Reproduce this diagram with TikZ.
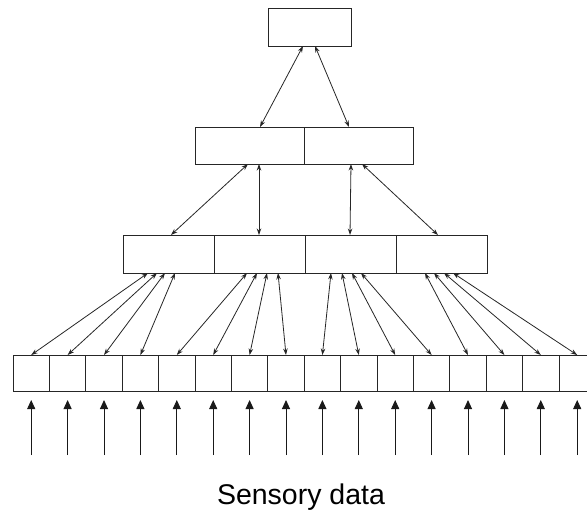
\documentclass[tikz,border=0pt]{standalone}
\usepackage{fontspec}
\setmainfont{Liberation Sans}
\usetikzlibrary{arrows.meta}
\usetikzlibrary{positioning}

\tikzset{
  unit/.style={draw=black!85,rectangle,inner sep=0pt,outer sep=0pt,line width=1pt},
  link/.style={draw=black!85,<->,>={Stealth[length=6.5pt,width=4.5pt]},line width=0.8pt},
  input/.style={draw=black!90,->,>={Triangle[length=9pt,width=8pt]},line width=1pt},
}

\begin{document}
\begin{tikzpicture}[x=1pt,y=-1pt]
  \useasboundingbox (0,0) rectangle (587,514);
  \clip (0,0) rectangle (587,514);

  % top level
  \node [unit,minimum width=83pt,minimum height=38pt] (top) at (309.5,27) {};

  % middle level
  \node [unit,minimum width=109pt,minimum height=37pt] (Ma) at (249.5,145.5) {};
  \node [unit,minimum width=109pt,minimum height=37pt,right=0pt of Ma] (Mb) {};

  % lower level
  \node [unit,minimum width=91pt,minimum height=38pt] (La) at (168.5,254) {};
  \node [unit,minimum width=91pt,minimum height=38pt,right=0pt of La] (Lb) {};
  \node [unit,minimum width=91pt,minimum height=38pt,right=0pt of Lb] (Lc) {};
  \node [unit,minimum width=91pt,minimum height=38pt,right=0pt of Lc] (Ld) {};

  % sensor row
  \foreach \i in {1,...,16} {
    \node [unit,minimum width=36.4pt,minimum height=36pt] (s\i) at ({13+36.4*(\i-0.5)},373) {};
    \coordinate (in\i) at ({13+36.4*(\i-0.5)},455);
  }

  \path
    ([xshift=-6.5pt]top.south) edge [link] ([xshift=10.5pt]Ma.north)
    ([xshift=5.5pt]top.south) edge [link] ([xshift=-9.5pt]Mb.north);

  \path
    ([xshift=-1.5pt]Ma.south) edge [link] ([xshift=2.5pt]La.north)
    ([xshift=9.5pt]Ma.south) edge [link] ([xshift=-0.5pt]Lb.north)
    ([xshift=-7.5pt]Mb.south) edge [link] ([xshift=-0.5pt]Lc.north)
    ([xshift=3.5pt]Mb.south) edge [link] ([xshift=-3.5pt]Ld.north);

  \foreach \p/\s/\dx in {La/1/-20.5, La/2/-11.5, La/3/-3.5, La/4/6.5,
                         Lb/5/-12.5, Lb/6/-2.5, Lb/7/7.5, Lb/8/18.5,
                         Lc/9/-19.5, Lc/10/-8.5, Lc/11/1.5, Lc/12/10.5,
                         Ld/13/-16.5, Ld/14/-7.5, Ld/15/2.5, Ld/16/11.5}
    \draw [link] ([xshift=\dx pt]\p.south) -- (s\s.north);

  % inputs from below
  \foreach \i in {1,...,16}
    \draw [input,shorten >=9pt] (in\i) -- (s\i.south);

  \node [anchor=base,font=\fontsize{28.5}{32}\selectfont] (caption) at (301,504) {Sensory data};

\end{tikzpicture}
\end{document}
